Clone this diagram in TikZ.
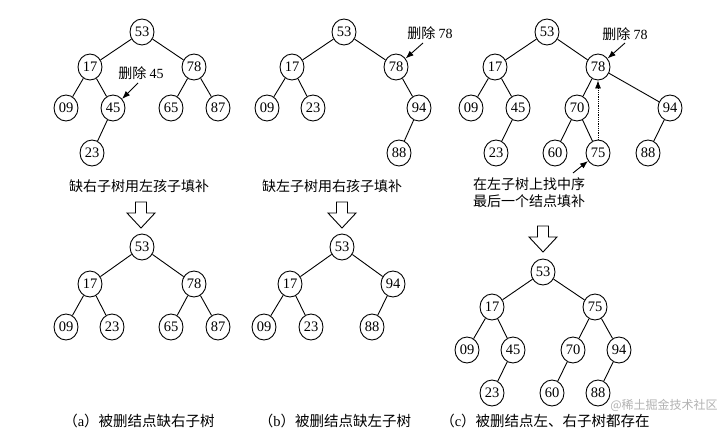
\documentclass[tikz,border=0pt]{standalone}
\usepackage{fontspec}
\setmainfont{Liberation Serif}
\newfontfamily\cjk{Noto Sans CJK SC}
\usetikzlibrary{arrows.meta,shapes.geometric}
\begin{document}
\begin{tikzpicture}[x=1pt,y=-1pt,
  nd/.style={ellipse,draw,line width=0.9pt,minimum width=24pt,minimum height=26pt,inner sep=0pt,font=\fontsize{14.5}{14.5}\selectfont},
  ed/.style={line width=0.9pt},
  lab/.style={font=\cjk\fontsize{14}{17}\selectfont,inner sep=0pt},
  captext/.style={font=\cjk\fontsize{14.5}{17}\selectfont,inner sep=0pt},
  ptr/.style={line width=0.9pt,-{Latex[length=8pt,width=6pt]}},
  downarrow/.pic={\draw[line width=0.9pt] (-5.5,0) -- (5.5,0) -- (5.5,11) -- (14,11) -- (0,26) -- (-14,11) -- (-5.5,11) -- cycle;}
]
\useasboundingbox (0,0) rectangle (720,436);
\fill[white] (0,0) rectangle (720,436);

% ---------- (a) top ----------
\node[nd] (a53) at (142,32) {53};
\node[nd] (a17) at (90,67) {17};
\node[nd] (a78) at (194,67) {78};
\node[nd] (a09) at (66,108) {09};
\node[nd] (a45) at (113,108) {45};
\node[nd] (a65) at (171,108) {65};
\node[nd] (a87) at (218,108) {87};
\node[nd] (a23) at (92,153) {23};
\draw[ed] (a53)--(a17) (a53)--(a78) (a17)--(a09) (a17)--(a45) (a45)--(a23) (a78)--(a65) (a78)--(a87);
\node[lab] (la) at (141,73) {删除 {\rmfamily 45}};
\coordinate (las) at (138,83);
\draw[ptr] (las) -- (a45);

\node[lab] (ta) at (139,186) {缺右子树用左孩子填补};
\pic at (141,202) {downarrow};

% ---------- (a) bottom ----------
\node[nd] (A53) at (142,247) {53};
\node[nd] (A17) at (90,284) {17};
\node[nd] (A78) at (194,284) {78};
\node[nd] (A09) at (66,327) {09};
\node[nd] (A23) at (112,327) {23};
\node[nd] (A65) at (171,327) {65};
\node[nd] (A87) at (218,327) {87};
\draw[ed] (A53)--(A17) (A53)--(A78) (A17)--(A09) (A17)--(A23) (A78)--(A65) (A78)--(A87);

% ---------- (b) top ----------
\node[nd] (b53) at (344,32) {53};
\node[nd] (b17) at (292,67) {17};
\node[nd] (b78) at (396,67) {78};
\node[nd] (b09) at (267,108) {09};
\node[nd] (b23) at (313,108) {23};
\node[nd] (b94) at (419,108) {94};
\node[nd] (b88) at (399,153) {88};
\draw[ed] (b53)--(b17) (b53)--(b78) (b17)--(b09) (b17)--(b23) (b78)--(b94) (b94)--(b88);
\node[lab] (lb) at (430,33) {删除 {\rmfamily 78}};
\coordinate (lbs) at (423,43);
\draw[ptr] (lbs) -- (b78);

\node[lab] (tb) at (332,186) {缺左子树用右孩子填补};
\pic at (342,202) {downarrow};

% ---------- (b) bottom ----------
\node[nd] (B53) at (342,247) {53};
\node[nd] (B17) at (290,284) {17};
\node[nd] (B94) at (393,284) {94};
\node[nd] (B09) at (264,327) {09};
\node[nd] (B23) at (311,327) {23};
\node[nd] (B88) at (372,327) {88};
\draw[ed] (B53)--(B17) (B53)--(B94) (B17)--(B09) (B17)--(B23) (B94)--(B88);

% ---------- (c) top ----------
\node[nd] (c53) at (547,32) {53};
\node[nd] (c17) at (495,67) {17};
\node[nd] (c78) at (598,67) {78};
\node[nd] (c09) at (471,108) {09};
\node[nd] (c45) at (518,108) {45};
\node[nd] (c70) at (577,108) {70};
\node[nd] (c94) at (670,108) {94};
\node[nd] (c23) at (496,153) {23};
\node[nd] (c60) at (555,153) {60};
\node[nd] (c75) at (598,153) {75};
\node[nd] (c88) at (648,153) {88};
\draw[ed] (c53)--(c17) (c53)--(c78) (c17)--(c09) (c17)--(c45) (c45)--(c23) (c78)--(c70) (c78)--(c94) (c70)--(c60) (c70)--(c75) (c94)--(c88);
\node[lab] (lc) at (625,34) {删除 {\rmfamily 78}};
\coordinate (lcs) at (625,43);
\draw[ptr] (lcs) -- (c78);
\draw[line width=0.8pt,densely dotted,-{Latex[length=8pt,width=6pt]}] (c75) -- (c78);
\node[lab,align=left,anchor=north west] (tc) at (473,177) {在左子树上找中序\\最后一个结点填补};
\coordinate (tcs) at (573,173);
\draw[ptr] (tcs) -- (c75);
\pic at (543,226) {downarrow};

% ---------- (c) bottom ----------
\node[nd] (C53) at (543,272) {53};
\node[nd] (C17) at (492,307) {17};
\node[nd] (C75) at (595,307) {75};
\node[nd] (C09) at (467,350) {09};
\node[nd] (C45) at (513,350) {45};
\node[nd] (C70) at (573,350) {70};
\node[nd] (C94) at (619,350) {94};
\node[nd] (C23) at (492,393) {23};
\node[nd] (C60) at (552,393) {60};
\node[nd] (C88) at (598,393) {88};
\draw[ed] (C53)--(C17) (C53)--(C75) (C17)--(C09) (C17)--(C45) (C45)--(C23) (C75)--(C70) (C75)--(C94) (C70)--(C60) (C94)--(C88);

% ---------- captions ----------
\node[captext] (capa) at (139,421) {（{\rmfamily a}）被删结点缺右子树};
\node[captext] (capb) at (335,421) {（{\rmfamily b}）被删结点缺左子树};
\node[captext] (capc) at (545,421) {（{\rmfamily c}）被删结点左、右子树都存在};
\node[font=\cjk\fontsize{12}{14}\selectfont,text=black!30,inner sep=0pt] (wm) at (664,405) {@稀土掘金技术社区};
\end{tikzpicture}
\end{document}
